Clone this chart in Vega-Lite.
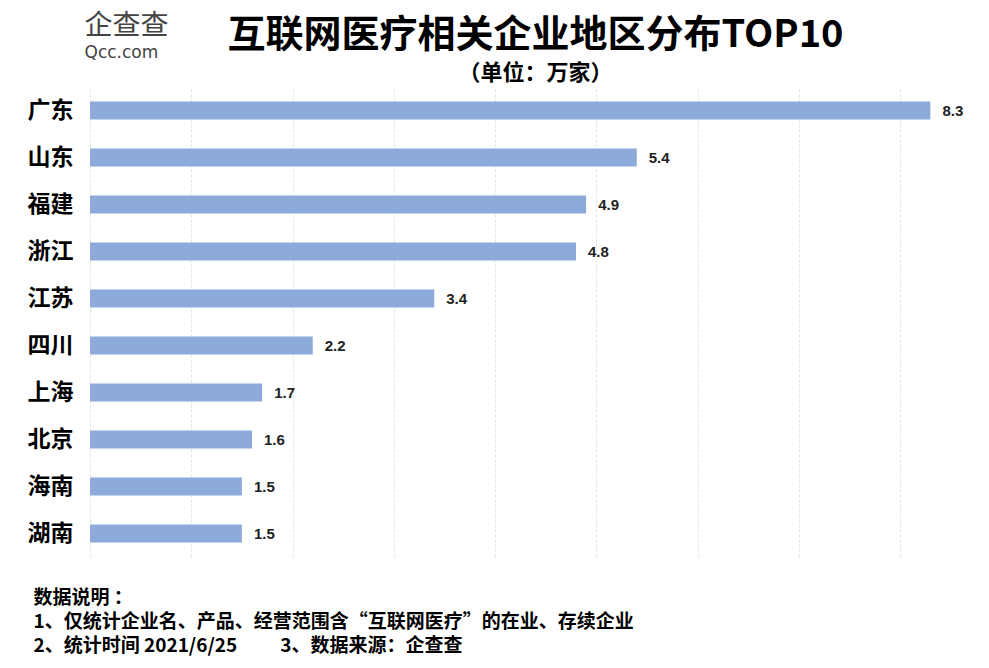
{
  "$schema": "https://vega.github.io/schema/vega-lite/v6.json",
  "width": 891,
  "height": 470,
  "autosize": {"type": "none"},
  "padding": {"left": 90, "top": 87, "right": 8, "bottom": 111},
  "background": "white",
  "config": {"view": {"stroke": null}, "font": "Noto Sans CJK SC"},
  "title": {
    "text": "互联网医疗相关企业地区分布TOP10",
    "subtitle": "（单位：万家）",
    "anchor": "middle",
    "frame": "group",
    "font": "Noto Sans CJK SC",
    "fontSize": 38,
    "fontWeight": "bold",
    "color": "#000000",
    "subtitleFont": "Noto Sans CJK SC",
    "subtitleFontSize": 22,
    "subtitleFontWeight": "bold",
    "subtitleColor": "#000000",
    "subtitlePadding": 8,
    "offset": -72
  },
  "data": {
    "values": [
      {"region": "广东", "value": 8.3},
      {"region": "山东", "value": 5.4},
      {"region": "福建", "value": 4.9},
      {"region": "浙江", "value": 4.8},
      {"region": "江苏", "value": 3.4},
      {"region": "四川", "value": 2.2},
      {"region": "上海", "value": 1.7},
      {"region": "北京", "value": 1.6},
      {"region": "海南", "value": 1.5},
      {"region": "湖南", "value": 1.5}
    ]
  },
  "encoding": {
    "y": {
      "field": "region",
      "type": "nominal",
      "sort": null,
      "scale": {"paddingInner": 0.62, "paddingOuter": 0.31},
      "axis": {
        "title": "企查查",
        "titleAngle": 0,
        "titleAlign": "left",
        "titleBaseline": "middle",
        "titleX": -6,
        "titleY": -61,
        "titleFont": "Noto Sans CJK SC",
        "titleFontSize": 28,
        "titleFontWeight": "normal",
        "titleColor": "#444444",
        "labelFont": "Noto Sans CJK SC",
        "labelFontSize": 23,
        "labelFontWeight": "bold",
        "labelColor": "#000000",
        "labelPadding": 17,
        "ticks": false,
        "domain": false,
        "grid": false
      }
    },
    "x": {
      "field": "value",
      "type": "quantitative",
      "scale": {"domain": [0, 8.8], "nice": false}
    }
  },
  "layer": [
    {
      "mark": {"type": "bar", "color": "#8eaadb"},
      "encoding": {
        "x": {
          "field": "value",
          "type": "quantitative",
          "scale": {"domain": [0, 8.8], "nice": false},
          "axis": {
            "orient": "bottom",
            "values": [0, 1, 2, 3, 4, 5, 6, 7, 8],
            "labels": false,
            "ticks": false,
            "domain": false,
            "grid": true,
            "gridColor": "#e3e3e3",
            "gridDash": [3, 2],
            "gridWidth": 1,
            "title": ["数据说明 ：", "1、仅统计企业名、产品、经营范围含“互联网医疗”的在业、存续企业", "2、统计时间 2021/6/25\u00a0\u00a0\u00a0\u00a0\u00a0\u00a0\u00a0\u00a0\u00a0 3、数据来源：企查查"],
            "titleAnchor": "start",
            "titleAlign": "left",
            "titleBaseline": "top",
            "titleX": -57,
            "titleY": 31,
            "titleLineHeight": 24,
            "titleFont": "Noto Sans CJK SC",
            "titleFontSize": 19,
            "titleFontWeight": "bold",
            "titleColor": "#000000"
          }
        }
      }
    },
    {
      "mark": {"type": "text", "align": "left", "baseline": "middle", "dx": 12, "fontSize": 15, "fontWeight": "bold", "color": "#222222", "font": "Liberation Sans"},
      "encoding": {
        "x": {
          "field": "value",
          "type": "quantitative",
          "scale": {"domain": [0, 8.8], "nice": false},
          "axis": {
            "orient": "top",
            "labels": false,
            "ticks": false,
            "domain": false,
            "grid": false,
            "title": "Qcc.com",
            "titleAnchor": "start",
            "titleAlign": "left",
            "titleBaseline": "middle",
            "titleX": -6,
            "titleY": -35,
            "titleFont": "DejaVu Sans",
            "titleFontSize": 17,
            "titleFontWeight": "normal",
            "titleColor": "#444444"
          }
        },
        "text": {"field": "value", "type": "quantitative", "format": ".1f"}
      }
    }
  ],
  "resolve": {"axis": {"x": "independent"}}
}
